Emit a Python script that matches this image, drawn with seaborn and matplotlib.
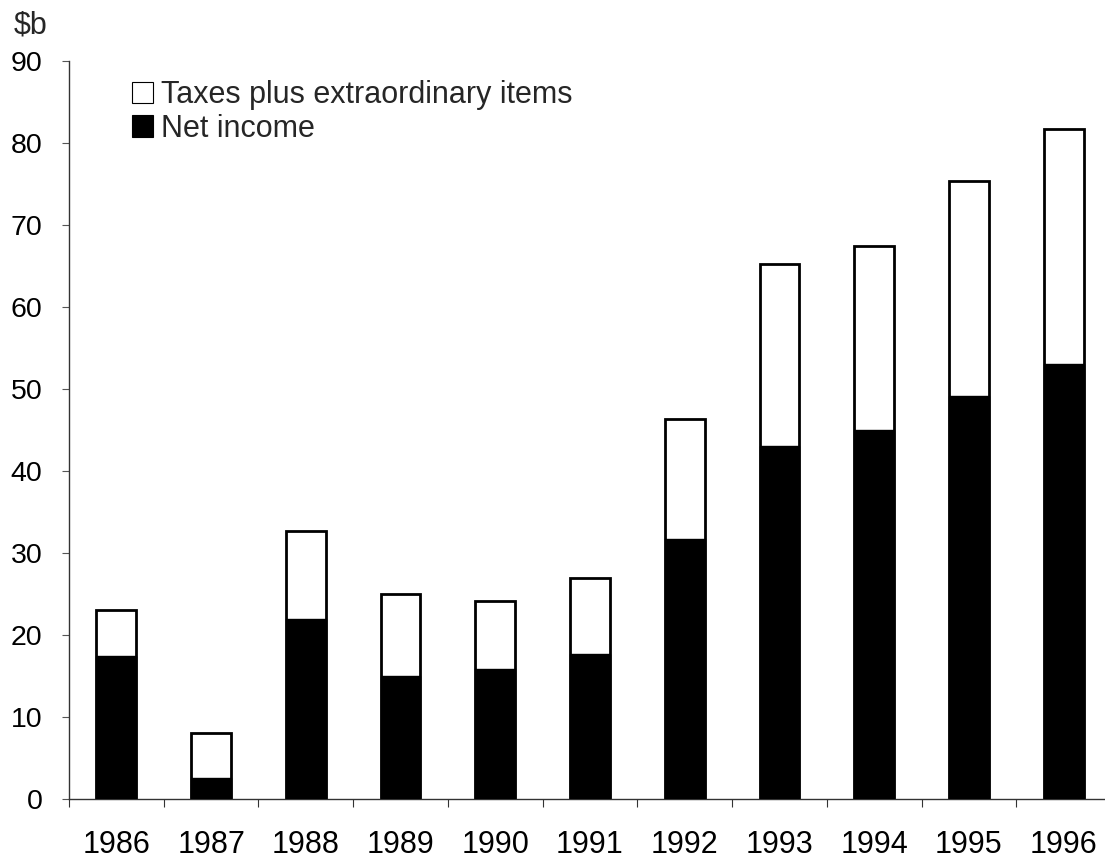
import matplotlib
matplotlib.use("Agg")
import matplotlib.pyplot as plt
from matplotlib.patches import Patch
from matplotlib.ticker import FixedLocator
import seaborn as sns
import pandas as pd
import numpy as np

# ---- data ----
years = ["1986", "1987", "1988", "1989", "1990", "1991", "1992", "1993", "1994", "1995", "1996"]
net_income = [17.5, 2.6, 22.0, 15.0, 15.9, 17.7, 31.7, 43.1, 45.0, 49.2, 53.1]
taxes_extra = [5.5, 5.5, 10.7, 10.0, 8.3, 9.3, 14.6, 22.1, 22.4, 26.2, 28.6]
y_ticks = [0, 10, 20, 30, 40, 50, 60, 70, 80, 90]
legend_labels = ["Taxes plus extraordinary items", "Net income"]
unit_label = "\\$b"

sns.set_theme(style="white")
plt.rcParams["font.family"] = ["Liberation Sans", "DejaVu Sans"]

df = pd.DataFrame({
    "year": years,
    "net": net_income,
    "taxes": taxes_extra,
})
df["total"] = df["net"] + df["taxes"]

fig = plt.figure(figsize=(11.05, 8.59), dpi=100)
ax = fig.add_axes([69 / 1105, 1 - 799 / 859, (1111 - 69) / 1105, 738 / 859])

bw = 0.42

sns.barplot(data=df, x="year", y="total", color="white", edgecolor="black",
            linewidth=2.0, width=bw, saturation=1, ax=ax, zorder=2)
sns.barplot(data=df, x="year", y="net", color="black", edgecolor="black",
            linewidth=1.0, width=bw, saturation=1, ax=ax, zorder=3)

ax.set_xlim(-0.5, len(years) - 0.5)
ax.set_ylim(0, 90)
ax.yaxis.set_major_locator(FixedLocator(y_ticks))
ax.set_yticklabels([str(t) for t in y_ticks])
ax.set_xlabel("")
ax.set_ylabel("")

for s in ["top", "right"]:
    ax.spines[s].set_visible(False)
for s in ["left", "bottom"]:
    ax.spines[s].set_color("#333333")
    ax.spines[s].set_linewidth(1.0)

# x: labels at centres, tick marks at category boundaries
ax.xaxis.set_minor_locator(FixedLocator(np.arange(-0.5, len(years), 1.0)))
ax.tick_params(axis="x", which="major", length=0, pad=22.5, labelsize=22, colors="black")
ax.tick_params(axis="x", which="minor", length=6, width=0.8, color="#333333", direction="out",
               bottom=True)
ax.tick_params(axis="y", which="major", length=5, width=0.8, color="#555555", direction="out",
               pad=14, labelsize=20.5, labelcolor="black", left=True)

fig.text(14 / 1105, 1 - 25 / 859, unit_label, fontsize=22, ha="left", va="center")

handles = [
    Patch(facecolor="white", edgecolor="black", linewidth=0.8),
    Patch(facecolor="black", edgecolor="black", linewidth=0.8),
]
fig.legend(handles, legend_labels, loc="upper left",
           bbox_to_anchor=(132 / 1105, 1 - 80 / 859), frameon=False,
           fontsize=22, handlelength=0.7, handleheight=0.7, handletextpad=0.25,
           labelspacing=0.12, borderpad=0, borderaxespad=0)

fig.savefig("out.png", dpi=100)
